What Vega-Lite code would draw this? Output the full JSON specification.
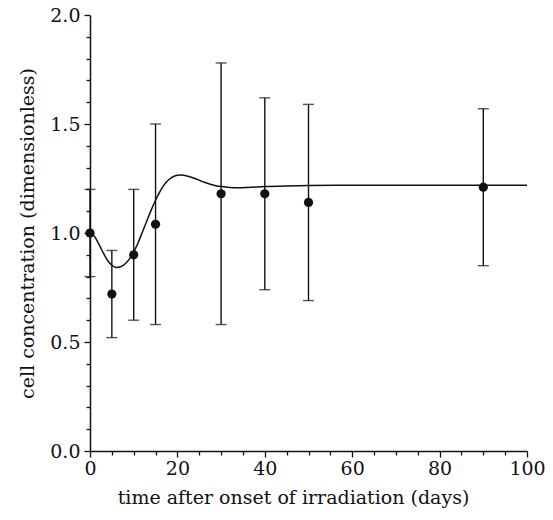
{
  "$schema": "https://vega.github.io/schema/vega-lite/v6.json",
  "width": 437,
  "height": 436,
  "autosize": {"type": "none"},
  "padding": {"left": 90, "top": 15, "right": 26, "bottom": 69},
  "background": "white",
  "config": {
    "view": {"stroke": null},
    "font": "DejaVu Serif",
    "axis": {
      "titleFont": "DejaVu Serif", "titleFontSize": 19, "titleFontWeight": "normal", "titleColor": "#111",
      "labelFont": "DejaVu Serif", "labelFontSize": 19, "labelColor": "#111",
      "labelFlush": false, "labelOverlap": false,
      "ticks": true, "tickColor": "#111", "tickWidth": 1.3,
      "domainColor": "#111", "domainWidth": 1.5, "grid": false
    }
  },
  "datasets": {
    "obs": [
      {"t": 0, "c": 1.0, "lo": 0.8, "hi": 1.2},
      {"t": 5, "c": 0.72, "lo": 0.52, "hi": 0.92},
      {"t": 10, "c": 0.9, "lo": 0.6, "hi": 1.2},
      {"t": 15, "c": 1.04, "lo": 0.58, "hi": 1.5},
      {"t": 30, "c": 1.18, "lo": 0.58, "hi": 1.78},
      {"t": 40, "c": 1.18, "lo": 0.74, "hi": 1.62},
      {"t": 50, "c": 1.14, "lo": 0.69, "hi": 1.59},
      {"t": 90, "c": 1.21, "lo": 0.85, "hi": 1.57}
    ],
    "model": [
      {"t": 0, "c": 1.0}, {"t": 1, "c": 0.985}, {"t": 2, "c": 0.95}, {"t": 3, "c": 0.91},
      {"t": 4, "c": 0.875}, {"t": 5, "c": 0.852}, {"t": 6, "c": 0.842}, {"t": 7, "c": 0.845},
      {"t": 8, "c": 0.858}, {"t": 9, "c": 0.88}, {"t": 10, "c": 0.912}, {"t": 11, "c": 0.955},
      {"t": 12, "c": 1.005}, {"t": 13, "c": 1.055}, {"t": 14, "c": 1.105}, {"t": 15, "c": 1.15},
      {"t": 16, "c": 1.19}, {"t": 17, "c": 1.222}, {"t": 18, "c": 1.244}, {"t": 19, "c": 1.258},
      {"t": 20, "c": 1.265}, {"t": 21, "c": 1.266}, {"t": 22, "c": 1.263}, {"t": 23, "c": 1.257},
      {"t": 24, "c": 1.25}, {"t": 25, "c": 1.242}, {"t": 26, "c": 1.234}, {"t": 27, "c": 1.227},
      {"t": 28, "c": 1.221}, {"t": 29, "c": 1.216}, {"t": 30, "c": 1.213}, {"t": 32, "c": 1.209},
      {"t": 34, "c": 1.208}, {"t": 36, "c": 1.209}, {"t": 40, "c": 1.213}, {"t": 45, "c": 1.216},
      {"t": 50, "c": 1.218}, {"t": 60, "c": 1.219}, {"t": 100, "c": 1.219}
    ]
  },
  "layer": [
    {
      "data": {"name": "model"},
      "mark": {"type": "line", "color": "#111", "strokeWidth": 1.5, "interpolate": "monotone", "clip": true},
      "encoding": {
        "x": {
          "field": "t", "type": "quantitative",
          "scale": {"domain": [0, 100], "nice": false},
          "axis": {
            "title": "time after onset of irradiation (days)", "titlePadding": 10, "titleX": 203,
            "values": [0,5,10,15,20,25,30,35,40,45,50,55,60,65,70,75,80,85,90,95,100],
            "labelExpr": "datum.value % 20 == 0 ? format(datum.value, 'd') : ''",
            "labelPadding": 2,
            "tickSize": {"condition": {"test": "datum.value % 20 == 0", "value": 6}, "value": 4}
          }
        },
        "y": {
          "field": "c", "type": "quantitative",
          "scale": {"domain": [0, 2], "nice": false},
          "axis": {
            "title": "cell concentration (dimensionless)", "titlePadding": 12,
            "values": [0,0.1,0.2,0.3,0.4,0.5,0.6,0.7,0.8,0.9,1.0,1.1,1.2,1.3,1.4,1.5,1.6,1.7,1.8,1.9,2.0],
            "labelExpr": "abs(datum.value*2 - round(datum.value*2)) < 0.001 ? format(datum.value, '.1f') : ''",
            "labelPadding": 4,
            "tickSize": {"condition": {"test": "abs(datum.value*2 - round(datum.value*2)) < 0.001", "value": 6}, "value": 4}
          }
        }
      }
    },
    {
      "data": {"name": "obs"},
      "mark": {"type": "rule", "color": "#111", "strokeWidth": 1.4},
      "encoding": {
        "x": {
          "field": "t", "type": "quantitative",
          "axis": {
            "title": "time after onset of irradiation (days)", "titlePadding": 10, "titleX": 203,
            "values": [0,5,10,15,20,25,30,35,40,45,50,55,60,65,70,75,80,85,90,95,100],
            "labelExpr": "datum.value % 20 == 0 ? format(datum.value, 'd') : ''",
            "labelPadding": 2,
            "tickSize": {"condition": {"test": "datum.value % 20 == 0", "value": 6}, "value": 4}
          }
        },
        "y": {
          "field": "lo", "type": "quantitative",
          "axis": {
            "title": "cell concentration (dimensionless)", "titlePadding": 12,
            "values": [0,0.1,0.2,0.3,0.4,0.5,0.6,0.7,0.8,0.9,1.0,1.1,1.2,1.3,1.4,1.5,1.6,1.7,1.8,1.9,2.0],
            "labelExpr": "abs(datum.value*2 - round(datum.value*2)) < 0.001 ? format(datum.value, '.1f') : ''",
            "labelPadding": 4,
            "tickSize": {"condition": {"test": "abs(datum.value*2 - round(datum.value*2)) < 0.001", "value": 6}, "value": 4}
          }
        },
        "y2": {"field": "hi"}
      }
    },
    {
      "data": {"name": "obs"},
      "mark": {"type": "tick", "color": "#111", "orient": "horizontal", "size": 11, "thickness": 1.4},
      "encoding": {
        "x": {
          "field": "t", "type": "quantitative",
          "axis": {
            "title": "time after onset of irradiation (days)", "titlePadding": 10, "titleX": 203,
            "values": [0,5,10,15,20,25,30,35,40,45,50,55,60,65,70,75,80,85,90,95,100],
            "labelExpr": "datum.value % 20 == 0 ? format(datum.value, 'd') : ''",
            "labelPadding": 2,
            "tickSize": {"condition": {"test": "datum.value % 20 == 0", "value": 6}, "value": 4}
          }
        },
        "y": {
          "field": "lo", "type": "quantitative",
          "axis": {
            "title": "cell concentration (dimensionless)", "titlePadding": 12,
            "values": [0,0.1,0.2,0.3,0.4,0.5,0.6,0.7,0.8,0.9,1.0,1.1,1.2,1.3,1.4,1.5,1.6,1.7,1.8,1.9,2.0],
            "labelExpr": "abs(datum.value*2 - round(datum.value*2)) < 0.001 ? format(datum.value, '.1f') : ''",
            "labelPadding": 4,
            "tickSize": {"condition": {"test": "abs(datum.value*2 - round(datum.value*2)) < 0.001", "value": 6}, "value": 4}
          }
        }
      }
    },
    {
      "data": {"name": "obs"},
      "mark": {"type": "tick", "color": "#111", "orient": "horizontal", "size": 11, "thickness": 1.4},
      "encoding": {
        "x": {
          "field": "t", "type": "quantitative",
          "axis": {
            "title": "time after onset of irradiation (days)", "titlePadding": 10, "titleX": 203,
            "values": [0,5,10,15,20,25,30,35,40,45,50,55,60,65,70,75,80,85,90,95,100],
            "labelExpr": "datum.value % 20 == 0 ? format(datum.value, 'd') : ''",
            "labelPadding": 2,
            "tickSize": {"condition": {"test": "datum.value % 20 == 0", "value": 6}, "value": 4}
          }
        },
        "y": {
          "field": "hi", "type": "quantitative",
          "axis": {
            "title": "cell concentration (dimensionless)", "titlePadding": 12,
            "values": [0,0.1,0.2,0.3,0.4,0.5,0.6,0.7,0.8,0.9,1.0,1.1,1.2,1.3,1.4,1.5,1.6,1.7,1.8,1.9,2.0],
            "labelExpr": "abs(datum.value*2 - round(datum.value*2)) < 0.001 ? format(datum.value, '.1f') : ''",
            "labelPadding": 4,
            "tickSize": {"condition": {"test": "abs(datum.value*2 - round(datum.value*2)) < 0.001", "value": 6}, "value": 4}
          }
        }
      }
    },
    {
      "data": {"name": "obs"},
      "mark": {"type": "point", "filled": true, "color": "#111", "size": 85, "opacity": 1},
      "encoding": {
        "x": {
          "field": "t", "type": "quantitative",
          "axis": {
            "title": "time after onset of irradiation (days)", "titlePadding": 10, "titleX": 203,
            "values": [0,5,10,15,20,25,30,35,40,45,50,55,60,65,70,75,80,85,90,95,100],
            "labelExpr": "datum.value % 20 == 0 ? format(datum.value, 'd') : ''",
            "labelPadding": 2,
            "tickSize": {"condition": {"test": "datum.value % 20 == 0", "value": 6}, "value": 4}
          }
        },
        "y": {
          "field": "c", "type": "quantitative",
          "axis": {
            "title": "cell concentration (dimensionless)", "titlePadding": 12,
            "values": [0,0.1,0.2,0.3,0.4,0.5,0.6,0.7,0.8,0.9,1.0,1.1,1.2,1.3,1.4,1.5,1.6,1.7,1.8,1.9,2.0],
            "labelExpr": "abs(datum.value*2 - round(datum.value*2)) < 0.001 ? format(datum.value, '.1f') : ''",
            "labelPadding": 4,
            "tickSize": {"condition": {"test": "abs(datum.value*2 - round(datum.value*2)) < 0.001", "value": 6}, "value": 4}
          }
        }
      }
    }
  ]
}
